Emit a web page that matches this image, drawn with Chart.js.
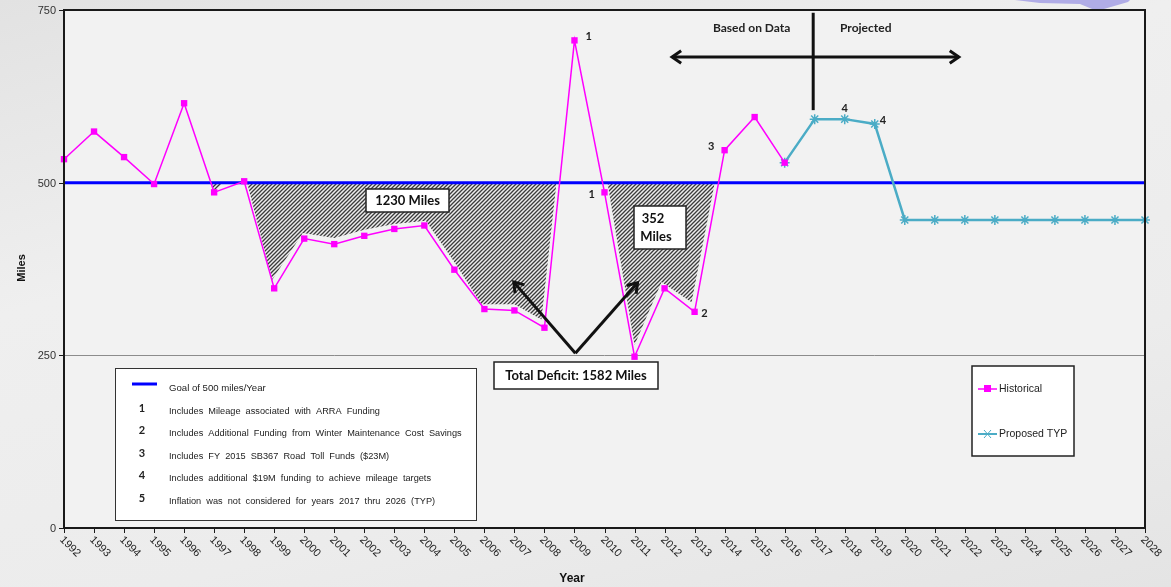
<!DOCTYPE html>
<html>
<head>
<meta charset="utf-8">
<title>Miles per Year</title>
<script src="https://cdn.jsdelivr.net/npm/chart.js@4.4.1/dist/chart.umd.min.js"></script>
<style>
    html, body { margin: 0; padding: 0; }
    body {
        width: 1171px;
        height: 587px;
        overflow: hidden;
        background: linear-gradient(165deg, #e2e2e2 0%, #efefef 35%, #ececec 70%, #e4e4e4 100%);
    }
    #milesChart { display: block; }
</style>
</head>
<body>
<canvas id="milesChart" width="1171" height="587"></canvas>
<script>
// Data
const historicalYears = [1992, 1993, 1994, 1995, 1996, 1997, 1998, 1999, 2000, 2001, 2002, 2003, 2004,
    2005, 2006, 2007, 2008, 2009, 2010, 2011, 2012, 2013, 2014, 2015, 2016];
const historicalMiles = [534, 574, 537, 498, 615, 486, 502, 347, 419, 411, 423, 433, 438,
    374, 317, 315, 290, 706, 486, 248, 347, 313, 547, 595, 529];

const proposedYears = [2016, 2017, 2018, 2019, 2020, 2021, 2022, 2023, 2024, 2025, 2026, 2027, 2028];
const proposedMiles = [529, 592, 592, 585, 446, 446, 446, 446, 446, 446, 446, 446, 446];

const goalYears = [1992, 2028];
const goalMiles = [500, 500];

// hatched deficit areas (drawn slightly off the data line, like the original slide)
const deficitMainYears = [1998.1, 1998.93, 1999.95, 2001, 2002, 2003, 2004.05, 2005.05, 2005.9, 2007, 2007.9, 2008.4];
const deficitMainMiles = [500, 359, 427, 420, 432, 440, 445, 382, 324, 324, 302, 500];
const deficitSmallYears = [1996.92, 1997.0, 1997.3];
const deficitSmallMiles = [500, 488, 500];
const deficitLateYears = [2010.1, 2011.0, 2011.9, 2012.9, 2013.67];
const deficitLateMiles = [500, 265, 356, 327, 500];

const xTickLabels = ['1992', '1993', '1994', '1995', '1996', '1997', '1998', '1999', '2000', '2001',
    '2002', '2003', '2004', '2005', '2006', '2007', '2008', '2009', '2010', '2011', '2012', '2013',
    '2014', '2015', '2016', '2017', '2018', '2019', '2020', '2021', '2022', '2023', '2024', '2025',
    '2026', '2027', '2028'];
const yTickValues = [0, 250, 500, 750];

const noteLabels = [
    { num: '1', text: 'Includes  Mileage  associated  with  ARRA  Funding' },
    { num: '2', text: 'Includes  Additional  Funding  from  Winter  Maintenance  Cost  Savings' },
    { num: '3', text: 'Includes  FY  2015  SB367  Road  Toll  Funds  ($23M)' },
    { num: '4', text: 'Includes  additional  $19M  funding  to  achieve  mileage  targets' },
    { num: '5', text: 'Inflation  was  not  considered  for  years  2017  thru  2026  (TYP)' }
];

// point notes: [year, miles, label]
const pointNotes = [
    [2009.47, 712, '1'],
    [2009.57, 483, '1'],
    [2013.33, 310, '2'],
    [2013.55, 553, '3'],
    [2018.0, 607, '4'],
    [2019.27, 590, '4']
];

function toPoints(xs, ys) {
    return xs.map((x, i) => ({ x: x, y: ys[i] }));
}

function makeHatch() {
    const c = document.createElement('canvas');
    c.width = 4;
    c.height = 4;
    const g = c.getContext('2d');
    g.fillStyle = '#ededed';
    g.fillRect(0, 0, 4, 4);
    g.strokeStyle = '#3c3c3c';
    g.lineWidth = 1.3;
    g.beginPath();
    g.moveTo(-1, 5); g.lineTo(5, -1);
    g.moveTo(-1, 1); g.lineTo(1, -1);
    g.moveTo(3, 5); g.lineTo(5, 3);
    g.stroke();
    return g.createPattern(c, 'repeat');
}

function arrowHead(ctx, x, y, angle, size) {
    ctx.beginPath();
    ctx.moveTo(x - size * Math.cos(angle - 0.6), y - size * Math.sin(angle - 0.6));
    ctx.lineTo(x, y);
    ctx.lineTo(x - size * Math.cos(angle + 0.6), y - size * Math.sin(angle + 0.6));
    ctx.stroke();
}

function arrow(ctx, x1, y1, x2, y2, bothEnds) {
    ctx.beginPath();
    ctx.moveTo(x1, y1);
    ctx.lineTo(x2, y2);
    ctx.stroke();
    arrowHead(ctx, x2, y2, Math.atan2(y2 - y1, x2 - x1), 11);
    if (bothEnds) arrowHead(ctx, x1, y1, Math.atan2(y1 - y2, x1 - x2), 11);
}

function textBox(ctx, x1, y1, x2, y2) {
    ctx.fillStyle = '#ffffff';
    ctx.fillRect(x1, y1, x2 - x1, y2 - y1);
    ctx.strokeStyle = '#222';
    ctx.lineWidth = 1.5;
    ctx.strokeRect(x1, y1, x2 - x1, y2 - y1);
}

const slidePlugin = {
    id: 'slidePlugin',
    beforeDraw(chart) {
        const { ctx, chartArea: a } = chart;
        ctx.save();
        ctx.fillStyle = '#f2f2f2';
        ctx.fillRect(a.left, a.top, a.right - a.left, a.bottom - a.top);
        // lavender decoration from the slide background
        ctx.fillStyle = 'rgba(165, 160, 228, 0.85)';
        ctx.beginPath();
        ctx.moveTo(1015, 0); ctx.lineTo(1130, 0); ctx.lineTo(1128, 2);
        ctx.lineTo(1097, 11); ctx.lineTo(1080, 4); ctx.lineTo(1040, 3);
        ctx.closePath();
        ctx.fill();
        ctx.restore();
    },
    beforeDatasetsDraw(chart) {
        const { ctx, chartArea: a, scales: { y } } = chart;
        ctx.save();
        ctx.strokeStyle = '#8c8c8c';
        ctx.lineWidth = 1;
        const gy = Math.round(y.getPixelForValue(250)) + 0.5;
        ctx.beginPath();
        ctx.moveTo(a.left, gy);
        ctx.lineTo(a.right, gy);
        ctx.stroke();
        ctx.restore();
    },
    afterDraw(chart) {
        const { ctx, chartArea: a, scales: { x, y } } = chart;
        ctx.save();

        // plot border
        ctx.strokeStyle = '#1a1a1a';
        ctx.lineWidth = 2;
        ctx.strokeRect(a.left, a.top, a.right - a.left, a.bottom - a.top);

        // y ticks + labels
        ctx.lineWidth = 1;
        ctx.fillStyle = '#333';
        ctx.font = '11px "Liberation Sans", Arial, sans-serif';
        ctx.textAlign = 'right';
        ctx.textBaseline = 'middle';
        yTickValues.forEach(v => {
            const py = Math.round(y.getPixelForValue(v)) + 0.5;
            ctx.beginPath();
            ctx.moveTo(a.left - 5, py);
            ctx.lineTo(a.left, py);
            ctx.stroke();
            ctx.fillText(String(v), a.left - 8, py);
        });

        // x ticks + rotated labels
        xTickLabels.forEach(lbl => {
            const px = Math.round(x.getPixelForValue(Number(lbl))) + 0.5;
            ctx.beginPath();
            ctx.moveTo(px, a.bottom);
            ctx.lineTo(px, a.bottom + 5);
            ctx.stroke();
            ctx.save();
            ctx.translate(px - 3, a.bottom + 10);
            ctx.rotate(Math.PI / 4);
            ctx.textAlign = 'left';
            ctx.textBaseline = 'middle';
            ctx.fillStyle = '#222';
            ctx.fillText(lbl, 0, 0);
            ctx.restore();
        });

        // axis titles
        ctx.fillStyle = '#111';
        ctx.font = 'bold 12px "Liberation Sans", Arial, sans-serif';
        ctx.textAlign = 'center';
        ctx.fillText('Year', 572, 579);
        ctx.save();
        ctx.translate(22, 268);
        ctx.rotate(-Math.PI / 2);
        ctx.font = 'bold 11px "Liberation Sans", Arial, sans-serif';
        ctx.fillText('Miles', 0, 0);
        ctx.restore();

        // point notes
        ctx.font = 'bold 11px Lato, "Open Sans", sans-serif';
        ctx.fillStyle = '#222';
        pointNotes.forEach(n => {
            ctx.fillText(n[2], x.getPixelForValue(n[0]), y.getPixelForValue(n[1]));
        });

        // based on data / projected
        ctx.font = 'bold 12px Lato, "Open Sans", sans-serif';
        ctx.fillText('Based on Data', x.getPixelForValue(2014.9), y.getPixelForValue(724));
        ctx.fillText('Projected', x.getPixelForValue(2018.7), y.getPixelForValue(724));
        ctx.strokeStyle = '#111';
        ctx.lineWidth = 3;
        const ay = y.getPixelForValue(682);
        arrow(ctx, x.getPixelForValue(2012.25), ay, x.getPixelForValue(2021.8), ay, true);
        ctx.beginPath();
        const vx = x.getPixelForValue(2016.95);
        ctx.moveTo(vx, y.getPixelForValue(746));
        ctx.lineTo(vx, y.getPixelForValue(605));
        ctx.stroke();

        // deficit arrows
        const tipX = x.getPixelForValue(2009.03), tipY = y.getPixelForValue(253);
        arrow(ctx, tipX, tipY, x.getPixelForValue(2006.98), y.getPixelForValue(356), false);
        arrow(ctx, tipX, tipY, x.getPixelForValue(2011.1), y.getPixelForValue(355), false);

        // text boxes
        ctx.font = 'bold 13px Lato, "Open Sans", sans-serif';
        textBox(ctx, 366, 189, 449, 212);
        ctx.fillStyle = '#111';
        ctx.fillText('1230 Miles', 407.5, 201);
        textBox(ctx, 634, 206, 686, 249);
        ctx.fillStyle = '#111';
        ctx.fillText('352', 653, 219);
        ctx.fillText('Miles', 656, 237);
        textBox(ctx, 494, 362, 658, 389);
        ctx.fillStyle = '#111';
        ctx.fillText('Total Deficit: 1582 Miles', 576, 376);

        // notes legend box
        ctx.fillStyle = '#ffffff';
        ctx.fillRect(115, 368, 361, 152);
        ctx.strokeStyle = '#333';
        ctx.lineWidth = 1;
        ctx.strokeRect(115.5, 368.5, 361, 152);
        ctx.strokeStyle = '#0000ff';
        ctx.lineWidth = 3;
        ctx.beginPath();
        ctx.moveTo(132, 384);
        ctx.lineTo(157, 384);
        ctx.stroke();
        ctx.fillStyle = '#222';
        ctx.textAlign = 'left';
        ctx.font = '9.6px "Liberation Sans", Arial, sans-serif';
        ctx.fillText('Goal of 500 miles/Year', 169, 388);
        const rows = [411, 433, 456, 478, 501];
        noteLabels.forEach((n, i) => {
            ctx.font = 'bold 11px Lato, "Open Sans", sans-serif';
            ctx.textAlign = 'center';
            ctx.fillText(n.num, 142, rows[i] - 3);
            ctx.font = '9.2px "Liberation Sans", Arial, sans-serif';
            ctx.textAlign = 'left';
            ctx.fillText(n.text, 169, rows[i]);
        });

        // series legend box
        ctx.fillStyle = '#ffffff';
        ctx.fillRect(972, 366, 102, 90);
        ctx.strokeStyle = '#222';
        ctx.lineWidth = 1.5;
        ctx.strokeRect(972, 366, 102, 90);
        ctx.strokeStyle = '#ff00ff';
        ctx.lineWidth = 1.5;
        ctx.beginPath(); ctx.moveTo(978, 389); ctx.lineTo(997, 389); ctx.stroke();
        ctx.fillStyle = '#ff00ff';
        ctx.fillRect(984, 385, 7, 7);
        ctx.strokeStyle = '#4bacc6';
        ctx.lineWidth = 2;
        ctx.beginPath(); ctx.moveTo(978, 434); ctx.lineTo(997, 434); ctx.stroke();
        ctx.lineWidth = 1;
        ctx.beginPath();
        ctx.moveTo(984, 430); ctx.lineTo(991, 438);
        ctx.moveTo(991, 430); ctx.lineTo(984, 438);
        ctx.stroke();
        ctx.fillStyle = '#222';
        ctx.font = '10.5px "Liberation Sans", Arial, sans-serif';
        ctx.fillText('Historical', 999, 389);
        ctx.fillText('Proposed TYP', 999, 434);

        ctx.restore();
    }
};

const hatch = makeHatch();

function deficitDataset(xs, ys) {
    return {
        label: 'deficit',
        data: toPoints(xs, ys),
        borderWidth: 0,
        borderColor: 'rgba(0,0,0,0)',
        backgroundColor: hatch,
        pointRadius: 0,
        fill: { value: 500 }
    };
}

new Chart(document.getElementById('milesChart'), {
    type: 'line',
    data: {
        datasets: [
            {
                label: 'Historical',
                data: toPoints(historicalYears, historicalMiles),
                borderColor: '#ff00ff',
                borderWidth: 1.5,
                pointStyle: 'rect',
                pointRadius: 4.5,
                pointBackgroundColor: '#ff00ff',
                pointBorderColor: '#ff00ff',
                pointBorderWidth: 0,
                fill: false
            },
            {
                label: 'Proposed TYP',
                data: toPoints(proposedYears, proposedMiles),
                borderColor: '#4bacc6',
                borderWidth: 2.5,
                pointStyle: 'star',
                pointRadius: 5,
                pointBorderColor: '#4bacc6',
                pointBackgroundColor: '#4bacc6',
                pointBorderWidth: 1.5,
                fill: false
            },
            {
                label: 'Goal of 500 miles/Year',
                data: toPoints(goalYears, goalMiles),
                borderColor: '#0000ff',
                borderWidth: 3,
                pointRadius: 0,
                fill: false
            },
            deficitDataset(deficitMainYears, deficitMainMiles),
            deficitDataset(deficitSmallYears, deficitSmallMiles),
            deficitDataset(deficitLateYears, deficitLateMiles)
        ]
    },
    options: {
        responsive: false,
        animation: false,
        clip: false,
        layout: { padding: { left: 64, right: 26, top: 10, bottom: 59 } },
        plugins: {
            legend: { display: false },
            tooltip: { enabled: false }
        },
        scales: {
            x: { type: 'linear', display: false, min: 1992, max: 2028 },
            y: { type: 'linear', display: false, min: 0, max: 750 }
        }
    },
    plugins: [slidePlugin]
});
</script>
</body>
</html>
